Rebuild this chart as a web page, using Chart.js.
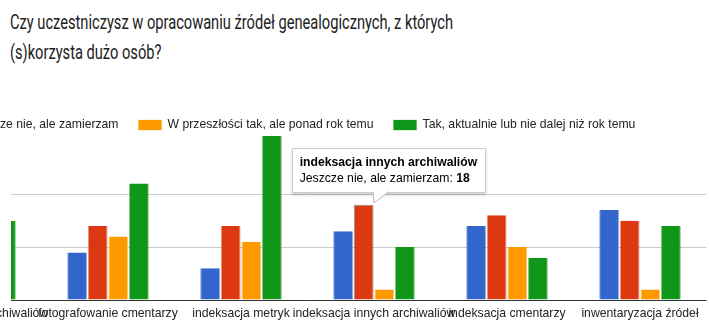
<!DOCTYPE html>
<html lang="pl">
<head>
<meta charset="utf-8">
<script src="https://cdn.jsdelivr.net/npm/chart.js@4.4.1/dist/chart.umd.min.js"></script>
<style>
  html, body { margin: 0; padding: 0; background: #fff; width: 709px; height: 324px; overflow: hidden; }
  .title { position: absolute; left: 10px; top: 7px; font: 20px Roboto, sans-serif; line-height: 30px; color: #212121;
           white-space: nowrap; transform: scaleX(0.732); transform-origin: 0 0; }
  .chart-box { position: absolute; left: -260px; top: 99px; width: 970px; height: 225px; }
  .tip { position: absolute; display: none; background: #fff; border: 1px solid #ccc; box-shadow: 0 2px 3px rgba(0,0,0,0.2);
         font: 12.2px "Liberation Sans", Arial, sans-serif; line-height: 16px; color: #000; padding: 5px 8px 6px 7px; white-space: nowrap; }
  .tip svg { position: absolute; top: 100%; margin-top: -1px; overflow: visible; }
</style>
</head>
<body>
<div class="title">Czy uczestniczysz w opracowaniu źródeł genealogicznych, z których<br>(s)korzysta dużo osób?</div>
<div class="chart-box">
  <canvas id="chart"></canvas>
  <div class="tip" id="tip"></div>
</div>
<script>
const categories = ['fotografowanie archiwaliów', 'fotografowanie cmentarzy', 'indeksacja metryk',
  'indeksacja innych archiwaliów', 'indeksacja cmentarzy', 'inwentaryzacja źródeł'];
const seriesNames = ['Nie i nie zamierzam', 'Jeszcze nie, ale zamierzam',
  'W przeszłości tak, ale ponad rok temu', 'Tak, aktualnie lub nie dalej niż rok temu'];
const nie = [10, 9, 6, 13, 14, 17];
const zamierzam = [14, 14, 14, 18, 16, 15];
const przeszlosc = [8, 12, 11, 2, 10, 2];
const aktualnie = [15, 22, 31, 10, 8, 14];

const colors = ['#3366cc', '#dc3912', '#ff9900', '#109618'];
const edges = ['rgba(51,102,204,0.55)', 'rgba(220,57,18,0.55)', 'rgba(255,153,0,0.55)', 'rgba(16,150,24,0.55)'];

Chart.defaults.font.family = '"Liberation Sans", Arial, sans-serif';
Chart.defaults.font.size = 12.2;

function drawTip(context) {
  const t = context.tooltip;
  const el = document.getElementById('tip');
  if (t.opacity === 0) {
    el.style.display = 'none';
    return;
  }
  const item = t.dataPoints[0];
  el.innerHTML = '<b>' + item.label + '</b><br>' + item.dataset.label + ': <b>' + item.raw + '</b>' +
    '<svg width="18" height="13" style="left:80px"><polygon points="0,0 1,12 16,0" fill="#fff"/>' +
    '<polyline points="0,0.5 1,12 16,0.5" fill="none" stroke="#bbb"/></svg>';
  el.style.display = 'block';
  el.style.left = (t.caretX - 72) + 'px';
  el.style.top = (t.caretY - 12 - el.offsetHeight) + 'px';
}

// white strip so the scrolled plot starts at x = 11 like the original
const leftClip = {
  id: 'leftClip',
  afterDatasetsDraw(chart) {
    const a = chart.chartArea;
    const ctx = chart.ctx;
    ctx.save();
    ctx.fillStyle = '#fff';
    ctx.fillRect(a.left - 1, a.top - 1, 271 - a.left + 1, a.bottom - a.top + 3);
    ctx.restore();
  }
};

const values = [nie, zamierzam, przeszlosc, aktualnie];

const chart = new Chart(document.getElementById('chart'), {
  type: 'bar',
  data: {
    labels: categories,
    datasets: values.map((v, i) => ({
      label: seriesNames[i],
      data: v,
      backgroundColor: colors[i],
      borderColor: edges[i],
      borderWidth: { left: 1, right: 1, top: 0, bottom: 0 },
      hoverBackgroundColor: colors[i],
      hoverBorderColor: 'rgba(70,70,70,0.6)',
      hoverBorderWidth: 1,
      categoryPercentage: 0.62,
      barPercentage: 0.96
    }))
  },
  options: {
    responsive: true,
    maintainAspectRatio: false,
    animation: false,
    layout: { padding: { left: 23.6, right: 3.5, top: 0, bottom: 0 } },
    plugins: {
      legend: {
        align: 'start',
        maxHeight: 37,
        labels: { boxWidth: 23, boxHeight: 10, padding: 20, color: '#222' }
      },
      tooltip: { enabled: false, external: drawTip }
    },
    scales: {
      x: {
        grid: { display: false, drawTicks: false },
        border: { display: false },
        ticks: { color: '#222', autoSkip: false, maxRotation: 0, minRotation: 0, padding: 6 },
        afterFit: (s) => { s.height = 24; }
      },
      y: {
        min: 0,
        max: 31,
        border: { display: false },
        grid: {
          drawTicks: false,
          color: (c) => c.tick.value === 0 ? '#333' : (c.tick.value % 10 === 0 ? '#ccc' : 'transparent')
        },
        ticks: { display: false, stepSize: 10 },
        afterFit: (s) => { s.width = 144.9; }
      }
    }
  },
  plugins: [leftClip]
});

const active = [{ datasetIndex: 1, index: 3 }];
chart.setActiveElements(active);
chart.tooltip.setActiveElements(active, { x: 0, y: 0 });
chart.update();
</script>
</body>
</html>
